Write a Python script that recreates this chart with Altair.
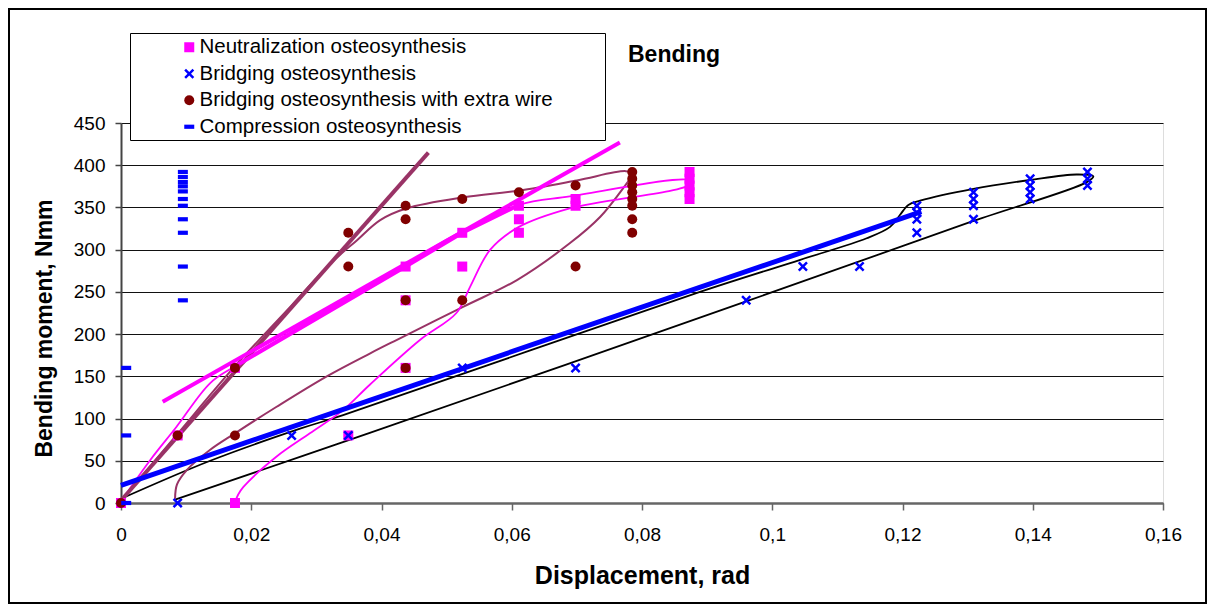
import altair as alt
import pandas as pd

# ---------------- data ----------------
SERIES = [
    "Neutralization osteosynthesis",
    "Bridging osteosynthesis",
    "Bridging osteosynthesis with extra wire",
    "Compression osteosynthesis",
]

NEUT_X = [0.0, 0.0087, 0.0175, 0.0175, 0.0349, 0.0437, 0.0437, 0.0437, 0.0524, 0.0524,
          0.0611, 0.0611, 0.0611, 0.0698, 0.0698, 0.0873, 0.0873, 0.0873, 0.0873, 0.0873]
NEUT_Y = [0, 80, 0, 160, 80, 160, 240, 280, 280, 320,
          320, 336, 352, 352, 360, 360, 368, 376, 384, 392]

BRID_X = [0.0087, 0.0262, 0.0349, 0.0524, 0.0698, 0.0960, 0.1047, 0.1134,
          0.1222, 0.1222, 0.1222, 0.1222, 0.1309, 0.1309, 0.1309, 0.1309,
          0.1396, 0.1396, 0.1396, 0.1396, 0.1484, 0.1484, 0.1484]
BRID_Y = [0, 80, 80, 160, 160, 240, 280, 280,
          320, 336, 344, 352, 336, 352, 360, 368,
          360, 368, 376, 384, 376, 384, 392]

WIRE_X = [0.0, 0.0087, 0.0175, 0.0175, 0.0349, 0.0349, 0.0437, 0.0437, 0.0437, 0.0437,
          0.0524, 0.0524, 0.0611, 0.0698, 0.0698, 0.0785, 0.0785, 0.0785, 0.0785,
          0.0785, 0.0785, 0.0785, 0.0785]
WIRE_Y = [0, 80, 80, 160, 280, 320, 160, 240, 336, 352,
          240, 360, 368, 280, 376, 320, 336, 352, 360,
          368, 376, 384, 392]

COMP_X = [0.0008, 0.0008, 0.0008, 0.0095, 0.0095, 0.0095, 0.0095, 0.0095, 0.0095,
          0.0095, 0.0095, 0.0095, 0.0095, 0.0095]
COMP_Y = [0, 80, 160, 240, 280, 320, 336, 352, 360, 369, 375, 380, 386, 392]

# trend / smoothed lines
BROWN_TREND_X = [0.0, 0.0472]
BROWN_TREND_Y = [3, 415]
MAG_TREND_X = [0.0064, 0.0766]
MAG_TREND_Y = [120, 427]
MAG_POLY_X = [0.0175, 0.0437, 0.0524, 0.0611]
MAG_POLY_Y = [162, 280, 320, 353]
BLUE_TREND_X = [0.0, 0.1229]
BLUE_TREND_Y = [21, 345]

BLACK_LOOP_X = [0.0083, 0.0382, 0.0961, 0.1309, 0.1483, 0.1493, 0.1467, 0.1396, 0.1309,
                0.1227, 0.1209, 0.1196, 0.1181, 0.1145, 0.1043, 0.0889, 0.0341, 0.0275,
                0.0137, 0.0]
BLACK_LOOP_Y = [4, 83, 239, 334, 380, 387, 389, 382.5, 372,
                358, 353, 341, 327, 313.5, 288, 250, 104, 88,
                50, 5]

BROWN_LOOP_X = [0.0083, 0.0086, 0.0101, 0.0137, 0.0175, 0.0239, 0.0316, 0.0382, 0.0423,
                0.0526, 0.0608, 0.0689, 0.0736, 0.0776, 0.0787, 0.0775, 0.0700, 0.0611,
                0.0526, 0.0439, 0.0398, 0.0362, 0.0321, 0.0262, 0.0175, 0.0087, 0.0]
BROWN_LOOP_Y = [5, 22, 39, 63, 82.5, 114, 150, 177, 193,
                232.5, 264, 307.5, 339, 378, 390, 393, 382, 370,
                362, 349, 335, 311, 283, 234, 162, 82, 2]

MAG_LOOP_X = [0.0175, 0.0180, 0.0188, 0.0239, 0.0290, 0.0341, 0.0382, 0.0459, 0.0515,
              0.0536, 0.0567, 0.0611, 0.0689, 0.0873, 0.0873, 0.0689, 0.0611, 0.0524,
              0.0437, 0.0175, 0.0137, 0.0085, 0.0045, 0.0]
MAG_LOOP_Y = [1, 10, 19, 55, 82.5, 110, 140, 193, 225,
              256, 300, 327, 349, 377, 382, 363, 353, 322,
              283, 162, 142, 90, 51, 2]

X_TICKS = [0, 0.02, 0.04, 0.06, 0.08, 0.1, 0.12, 0.14, 0.16]
Y_TICKS = [0, 50, 100, 150, 200, 250, 300, 350, 400, 450]
TITLE = "Bending"

# ---------------- styling ----------------
FONT = "Liberation Sans"
XPATH = ("M-1,-0.65L-0.65,-1L0,-0.35L0.65,-1L1,-0.65L0.35,0L1,0.65L0.65,1"
         "L0,0.35L-0.65,1L-1,0.65L-0.35,0Z")
DASHPATH = "M-1,-0.42H1V0.42H-1Z"
COLORS = ["#FF00FF", "#0000FF", "#800000", "#0000FF"]
SHAPES = ["square", XPATH, "circle", DASHPATH]
SIZES = [100, 100, 90, 130]

xscale = alt.Scale(domain=[0, 0.16], nice=False)
yscale = alt.Scale(domain=[0, 450], nice=False)

xaxis = alt.Axis(values=X_TICKS, title="Displacement, rad", grid=False,
                 labelExpr="replace(format(datum.value, '.2~f'), '.', ',')",
                 labelFont=FONT, labelFontSize=19, labelColor="#000", labelFlush=False,
                 labelPadding=15, tickSize=7, tickColor="#666", tickWidth=1.5,
                 domainColor="#666", domainWidth=2.5,
                 titleFont=FONT, titleFontSize=25, titleFontWeight="bold",
                 titleColor="#000", titleX=521, titleY=72, titleBaseline="middle",
                 titleAlign="center", zindex=0)
yaxis = alt.Axis(values=Y_TICKS, title="Bending moment, Nmm", grid=True,
                 gridColor="#111", gridWidth=1, gridOpacity=1,
                 labelFont=FONT, labelFontSize=19, labelColor="#000",
                 labelPadding=10, tickSize=6, tickColor="#444", tickWidth=1.5,
                 domainColor="#444", domainWidth=2,
                 titleFont=FONT, titleFontSize=23, titleFontWeight="bold",
                 titleColor="#000", titleX=-77, titleY=205, titleAngle=270,
                 titleAlign="center", titleBaseline="middle", zindex=0)


def X():
    return alt.X("x:Q", scale=xscale, axis=xaxis)


def Y():
    return alt.Y("y:Q", scale=yscale, axis=yaxis)


def line_layer(xs, ys, color, width, interp):
    df = pd.DataFrame({"x": xs, "y": ys, "o": list(range(len(xs)))})
    return alt.Chart(df).mark_line(color=color, strokeWidth=width, interpolate=interp,
                                   strokeCap="butt").encode(
        x=X(), y=Y(), order="o:Q")


lines = [
    line_layer(BLACK_LOOP_X, BLACK_LOOP_Y, "#000000", 1.8, "catmull-rom"),
    line_layer(BROWN_LOOP_X, BROWN_LOOP_Y, "#993366", 2.0, "catmull-rom"),
    line_layer(MAG_LOOP_X, MAG_LOOP_Y, "#FF00FF", 1.8, "catmull-rom"),
    line_layer(BROWN_TREND_X, BROWN_TREND_Y, "#993366", 4.0, "linear"),
    line_layer(MAG_TREND_X, MAG_TREND_Y, "#FF00FF", 4.0, "linear"),
    line_layer(MAG_POLY_X, MAG_POLY_Y, "#FF00FF", 4.0, "linear"),
    line_layer(BLUE_TREND_X, BLUE_TREND_Y, "#0000FF", 5.0, "linear"),
]

pts = pd.concat([
    pd.DataFrame({"x": NEUT_X, "y": NEUT_Y, "series": SERIES[0], "k": 0}),
    pd.DataFrame({"x": BRID_X, "y": BRID_Y, "series": SERIES[1], "k": 1}),
    pd.DataFrame({"x": WIRE_X, "y": WIRE_Y, "series": SERIES[2], "k": 2}),
    pd.DataFrame({"x": COMP_X, "y": COMP_Y, "series": SERIES[3], "k": 3}),
], ignore_index=True)

legend = alt.Legend(orient="none", legendX=58, legendY=-86, title=None,
                    labelFont=FONT, labelFontSize=20.5, labelColor="#000",
                    labelOffset=0, rowPadding=5.5, padding=0, symbolStrokeWidth=0,
                    labelLimit=600)

points = alt.Chart(pts).mark_point(filled=True, opacity=1, strokeWidth=0).encode(
    x=X(), y=Y(),
    color=alt.Color("series:N", scale=alt.Scale(domain=SERIES, range=COLORS), legend=legend),
    shape=alt.Shape("series:N", scale=alt.Scale(domain=SERIES, range=SHAPES), legend=legend),
    size=alt.Size("series:N", scale=alt.Scale(domain=SERIES, range=SIZES), legend=legend),
    order="k:Q",
)

one = pd.DataFrame({"a": [0]})
frame = alt.Chart(one).mark_rect(filled=False, stroke="#000", strokeWidth=2).encode(
    x=alt.value(-112), x2=alt.value(1085), y=alt.value(-114), y2=alt.value(480))
legend_box = alt.Chart(one).mark_rect(fill="#fff", stroke="#000", strokeWidth=1).encode(
    x=alt.value(9.5), x2=alt.value(484.5), y=alt.value(-89.5), y2=alt.value(17.5))
title = alt.Chart(pd.DataFrame({"t": [TITLE]})).mark_text(
    font=FONT, fontSize=23, fontWeight="bold", color="#000",
    align="left", baseline="alphabetic").encode(
    text="t:N", x=alt.value(507), y=alt.value(-61))

chart = alt.layer(*lines, points, legend_box, frame, title).properties(
    width=1042, height=380,
    autosize=alt.AutoSizeParams(type="none"),
    padding={"left": 121, "top": 123, "right": 45, "bottom": 102},
).configure_view(stroke="#888", strokeWidth=2.5).configure(background="#fff")

chart.save("out.html", embed_options={"renderer": "svg", "actions": False})
